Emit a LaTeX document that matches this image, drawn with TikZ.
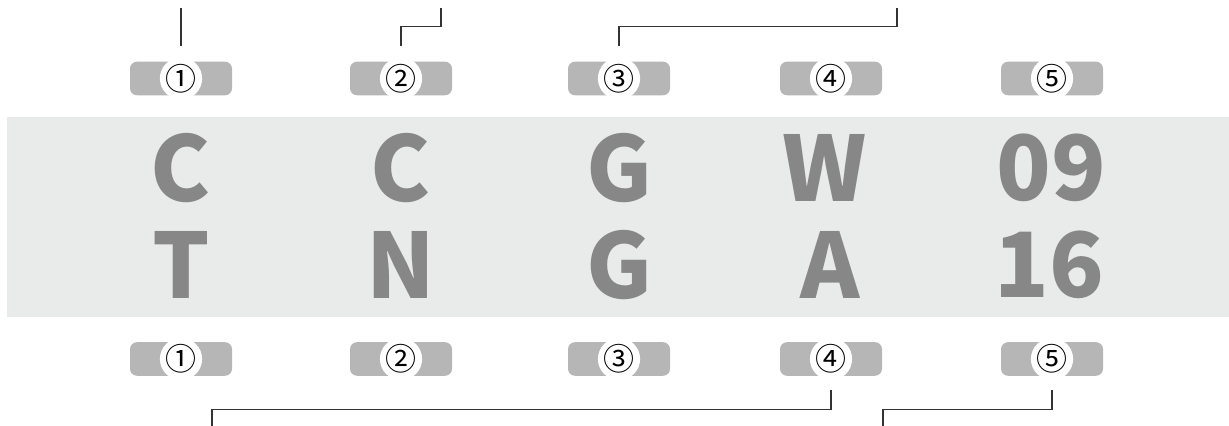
\documentclass[tikz,border=0pt]{standalone}
\usepackage{fontspec}
\usetikzlibrary{positioning,calc}
\newfontfamily\cjkfont{Noto Sans CJK JP}
\definecolor{PlateBand}{HTML}{E9EBEA}
\definecolor{PlateInk}{HTML}{878787}
\definecolor{PlatePill}{HTML}{B5B6B5}
\definecolor{PlateLine}{HTML}{333333}
\tikzset{
  pill/.style={rounded corners=3.5pt, fill=PlatePill, minimum width=51pt,
               minimum height=16.8pt, inner sep=0pt},
  badge/.style={circle, fill=white, minimum size=21pt, inner sep=0pt,
                font=\cjkfont\fontsize{15.5}{15.5}\selectfont},
  glyph/.style={text=PlateInk, inner sep=0pt,
                font=\cjkfont\bfseries\fontsize{45}{45}\selectfont},
  lead/.style={draw=PlateLine, line width=0.6pt},
}
\begin{document}
\begin{tikzpicture}[x=0.5pt,y=0.5pt]
    \useasboundingbox (0,0) rectangle (1229,426);
    \fill[PlateBand] (7,109) rectangle (1229,309);
    % badges above and below the plate
    \foreach \i/\x/\c in {1/181/①,2/401/②,3/619/③,4/831/④,5/1052/⑤}{
      \node[pill] (top\i) at (\x,347.5) {};
      \node[badge] (topc\i) at (top\i) {\c};
      \node[pill] (bot\i) at (\x,67) {};
      \node[badge] (botc\i) at (bot\i) {\c};
    }
    % plate characters
    \node[glyph] (up1) at (181,258) {C};
    \node[glyph] (up2) at (401,258) {C};
    \node[glyph] (up3) at (619,258) {G};
    \node[glyph] (up4) at (825,258) {W};
    \node[glyph] (up5) at (1051,258) {09};
    \node[glyph] (lo1) at (181,161) {T};
    \node[glyph] (lo2) at (401,161) {N};
    \node[glyph] (lo3) at (619,161) {G};
    \node[glyph] (lo4) at (830,161) {A};
    \node[glyph] (lo5) at (1049,161) {16};
    % leader lines
    \coordinate (in1) at (181,418);
    \coordinate (in2) at (441,418);
    \coordinate (in3) at (897,418);
    \coordinate (out4) at (212,0);
    \coordinate (out5) at (883,0);
    \draw[lead, shorten <=7.5pt] (top1.north) -- (in1);
    \draw[lead, shorten <=7.5pt] (top2.north) -- ++(0,35) -| (in2);
    \draw[lead, shorten <=7.5pt] (top3.north) -- ++(0,35) -| (in3);
    \draw[lead, shorten <=7pt] (bot4.south) -- ++(0,-33) -| (out4);
    \draw[lead, shorten <=7pt] (bot5.south) -- ++(0,-33) -| (out5);
\end{tikzpicture}
\end{document}
